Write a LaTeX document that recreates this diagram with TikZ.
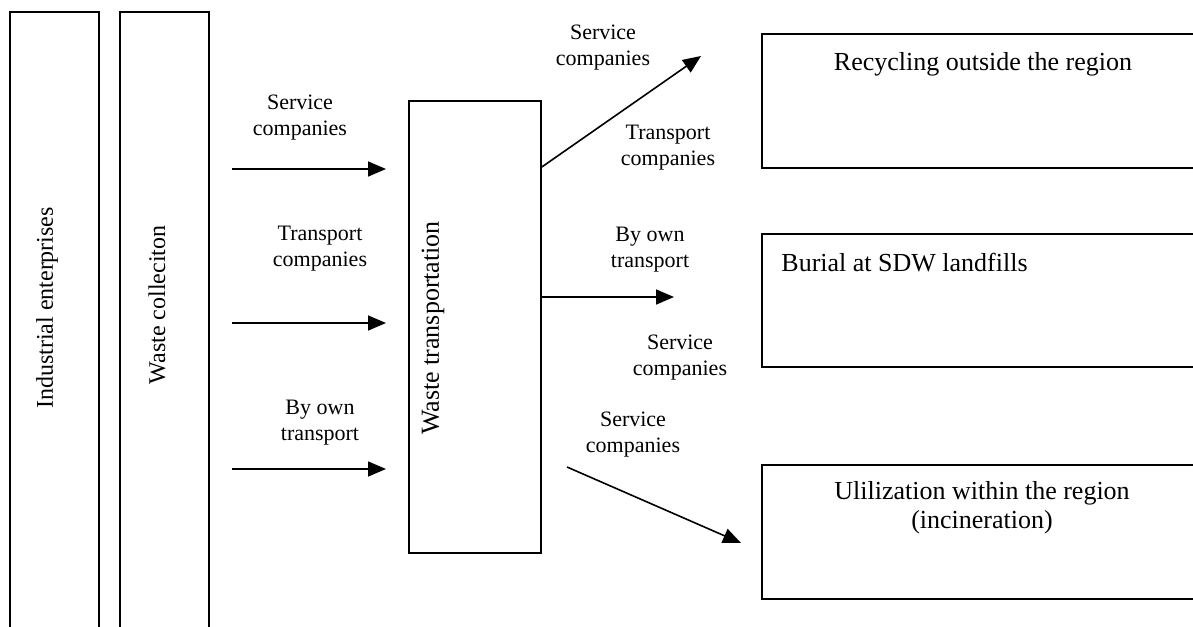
\documentclass[tikz,border=0pt]{standalone}
\usepackage{fontspec}
\setmainfont{Liberation Serif}
\usetikzlibrary{arrows.meta}
\begin{document}
\begin{tikzpicture}[x=0.5pt,y=-0.5pt,
  box/.style={draw, line width=0.8pt, inner sep=0pt, rectangle},
  lbl/.style={font=\fontsize{11}{13}\selectfont, align=center, inner sep=0pt},
  btxt/.style={font=\fontsize{13}{14.5}\selectfont, align=center, inner sep=0pt},
  vtxt/.style={font=\fontsize{12}{14}\selectfont, rotate=90, inner sep=0pt},
  arr/.style={-{Triangle[length=9pt,width=7.5pt]}, line width=0.8pt}]
\useasboundingbox (0,0) rectangle (1193,626);
\clip (0,0) rectangle (1193,626);
% boxes
\node[box, minimum width=44.5pt, minimum height=314pt] (ind) at (54.5,326) {};
\node[box, minimum width=44.5pt, minimum height=314pt] (col) at (164.5,326) {};
\node[box, minimum width=66pt, minimum height=226pt] (tr) at (475,327) {};
\node[box, minimum width=224pt, minimum height=67pt] (rec) at (986,101) {};
\node[box, minimum width=224pt, minimum height=66.5pt] (bur) at (986,300.5) {};
\node[box, minimum width=224pt, minimum height=67pt] (uti) at (986,532) {};
% box texts
\node[vtxt] (indt) at (47,308) {Industrial enterprises};
\node[vtxt] (colt) at (157,305) {Waste colleciton};
\node[vtxt, font=\fontsize{13}{15}\selectfont] (trt) at (433,328) {Waste transportation};
\node[btxt] (rect) at (983,64) {Recycling outside the region};
\node[btxt, anchor=west] (burt) at (781,263) {Burial at SDW landfills};
\node[btxt] (utit) at (982,508) {Ulilization within the region\\(incineration)};
% left arrows
\coordinate (a1s) at (232,169); \coordinate (a1e) at (386,169);
\coordinate (a2s) at (232,323); \coordinate (a2e) at (386,323);
\coordinate (a3s) at (232,469); \coordinate (a3e) at (386,469);
\draw[arr] (a1s) -- (a1e);
\draw[arr] (a2s) -- (a2e);
\draw[arr] (a3s) -- (a3e);
\node[lbl] (l1) at (300,118) {Service\\companies};
\node[lbl] (l2) at (320,249) {Transport\\companies};
\node[lbl] (l3) at (320,423) {By own\\transport};
% right arrows
\coordinate (b1e) at (701,56);
\coordinate (b2e) at (674,297);
\coordinate (b3s) at (567,467); \coordinate (b3e) at (741,543);
\draw[arr] (tr.east |- 0,167) -- (b1e);
\draw[arr] (tr.east |- 0,297) -- (b2e);
\draw[arr] (b3s) -- (b3e);
\node[lbl] (r1) at (603,48) {Service\\companies};
\node[lbl] (r2) at (668,148) {Transport\\companies};
\node[lbl] (r3) at (650,250) {By own\\transport};
\node[lbl] (r4) at (680,358) {Service\\companies};
\node[lbl] (r5) at (633,435) {Service\\companies};
\end{tikzpicture}
\end{document}
